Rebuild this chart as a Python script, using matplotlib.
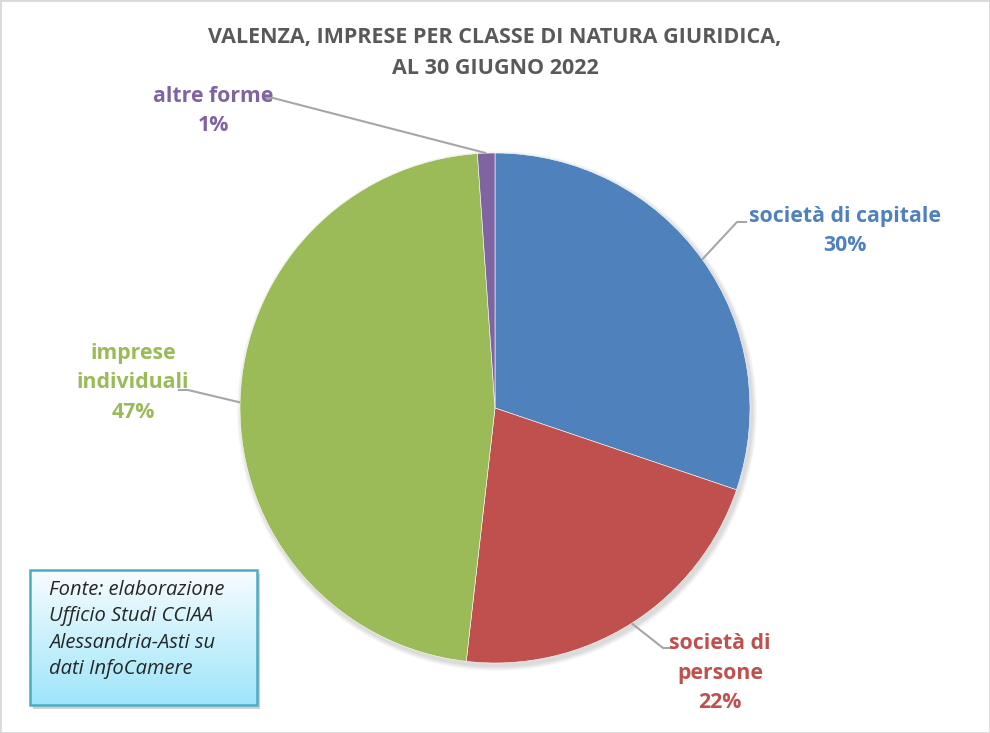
import matplotlib
matplotlib.use("Agg")
import matplotlib.pyplot as plt
import numpy as np
from matplotlib.patches import Rectangle

# dati
categorie = ["società di capitale", "società di persone", "imprese individuali", "altre forme"]
etichette = ["società di capitale", "società di\npersone", "imprese\nindividuali", "altre forme"]
quote = [30.2, 21.6, 47.1, 1.1]
percentuali = ["30%", "22%", "47%", "1%"]
colori = ["#4F81BD", "#C0504D", "#9BBB59", "#8064A2"]

titolo = "VALENZA, IMPRESE PER CLASSE DI NATURA GIURIDICA,\nAL 30 GIUGNO 2022"
fonte = "Fonte: elaborazione\nUfficio Studi CCIAA\nAlessandria-Asti su\ndati InfoCamere"

W, H = 990, 733
fig = plt.figure(figsize=(W / 100, H / 100), dpi=100)
ax = fig.add_axes([0, 0, 1, 1])

def py(y):
    # coordinate in pixel dall'alto
    return H - y

cx, cy, r = 495, py(408), 255

wedges, _ = ax.pie(quote, colors=colori, startangle=90, counterclock=False,
                   center=(cx, cy), radius=r, frame=True,
                   wedgeprops=dict(edgecolor="white", linewidth=0.4))

# ombra leggera
for k in range(6):
    c = plt.Circle((cx + 2, cy - 3), r + 1 + k * 0.8, color="black",
                   alpha=0.025, zorder=0, lw=0)
    ax.add_patch(c)

# etichette: posizione testo (pixel) e punto di aggancio del segmento orizzontale
pos_testo = [(845, 231), (720, 673), (133, 383), (213, 111)]
aggancio = [(737, 222), (663, 648), (188, 390), (273, 98)]
dir_h = [1, 1, -1, -1]
for i, w in enumerate(wedges):
    ang = np.deg2rad((w.theta1 + w.theta2) / 2)
    x0 = cx + r * np.cos(ang)
    y0 = cy + r * np.sin(ang)
    ax_, ay_ = aggancio[i]
    ax.plot([x0, ax_, ax_ + dir_h[i] * 10], [y0, py(ay_), py(ay_)],
            color="#A6A6A6", lw=1.5, zorder=1, solid_capstyle="butt")
    tx, ty = pos_testo[i]
    ax.text(tx, py(ty), etichette[i] + "\n" + percentuali[i], ha="center", va="center",
            color=colori[i], fontsize=15.3, fontweight="bold", family="Open Sans",
            linespacing=1.55)

# titolo
ax.text(W / 2, py(53), titolo, ha="center", va="center", color="#595959",
        fontsize=15.5, fontweight="bold", family="Open Sans", linespacing=1.6)

# riquadro fonte con sfumatura
bx0, by0, bx1, by1 = 30, 570, 257, 705
ax.add_patch(Rectangle((bx0 + 3, py(by1) - 4), bx1 - bx0, by1 - by0,
                       facecolor="#7F7F7F", alpha=0.35, lw=0, zorder=2))
grad = np.linspace(0, 1, 100)[:, None]
top = np.array([0.97, 0.99, 1.0])
bot = np.array([0.62, 0.90, 0.98])
img = top[None, None, :] * (1 - grad[..., None]) + bot[None, None, :] * grad[..., None]
ax.imshow(img, extent=(bx0, bx1, py(by1), py(by0)), origin="upper",
          aspect="auto", zorder=3)
ax.add_patch(Rectangle((bx0, py(by1)), bx1 - bx0, by1 - by0, facecolor="none",
                       edgecolor="#4BACC6", lw=1.8, zorder=4))
ax.text(bx0 + 19, py(by0 + 10), fonte, ha="left", va="top", color="#262626",
        fontsize=14.5, fontstyle="italic", family="Open Sans", linespacing=1.42, zorder=5)

ax.set_xlim(0, W)
ax.set_ylim(0, H)
ax.set_aspect("equal")
ax.axis("off")

# bordo esterno
fig.patches.append(Rectangle((0, 0), 1, 1, transform=fig.transFigure, fill=False,
                             edgecolor="#D9D9D9", lw=2))

fig.savefig("out.png", dpi=100)
